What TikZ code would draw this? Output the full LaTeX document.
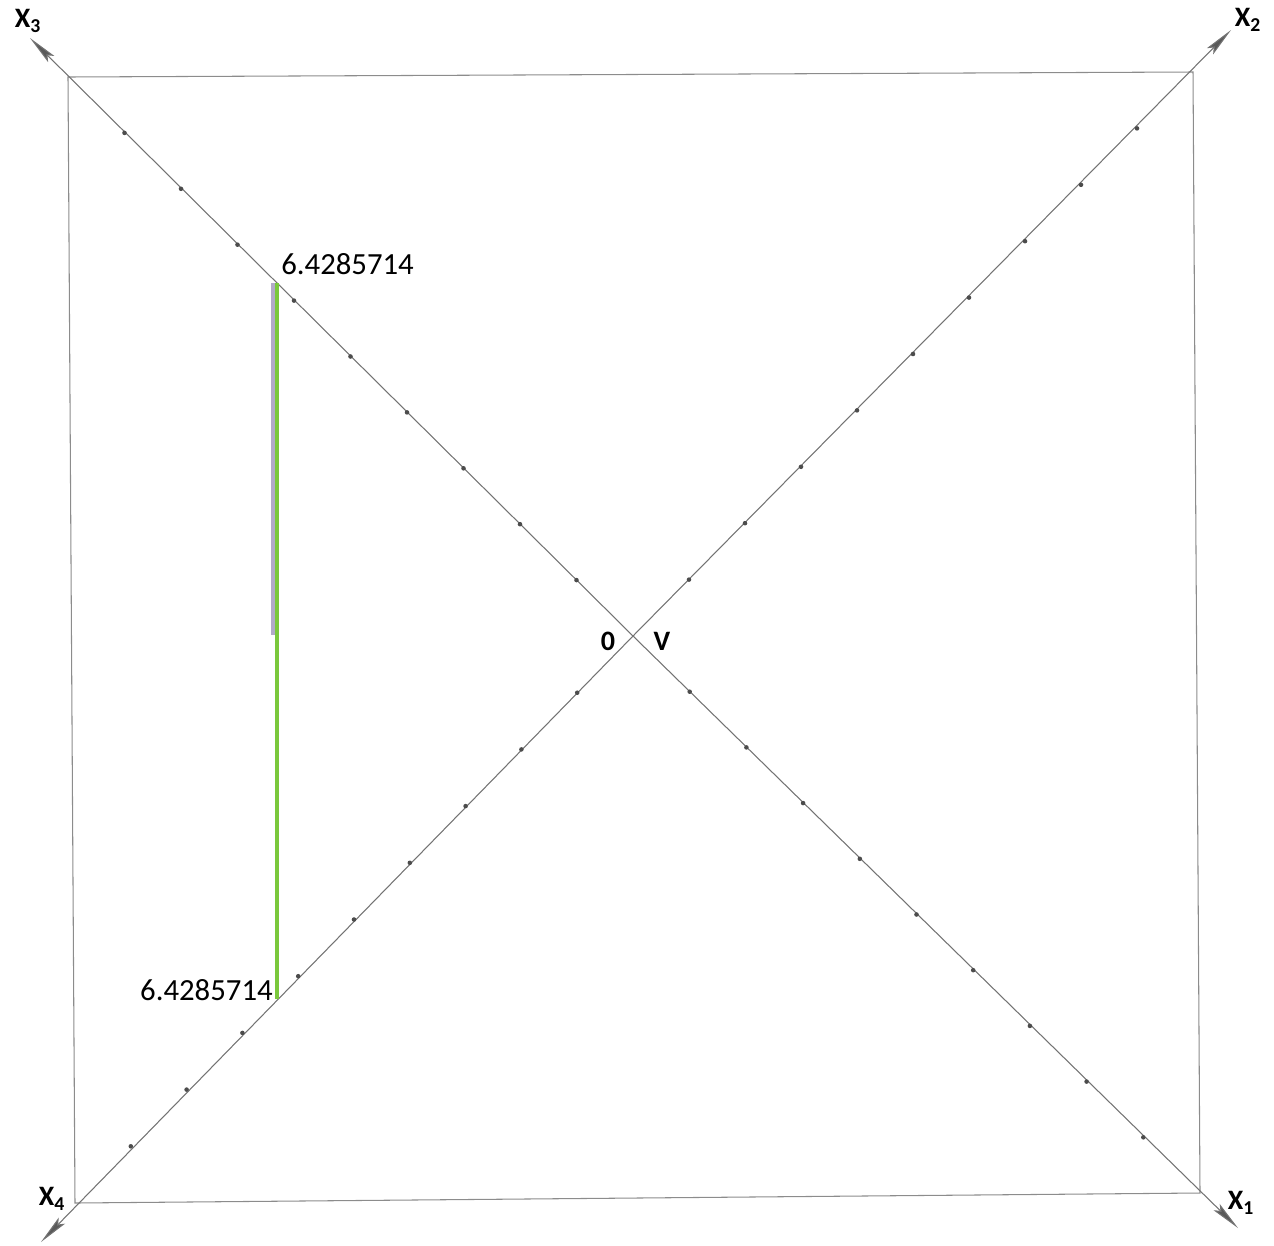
\documentclass[tikz,border=0pt]{standalone}
\usepackage{fontspec}
\setmainfont{Carlito}
\usetikzlibrary{calc,arrows.meta}
\definecolor{gline}{RGB}{122,200,60}
\definecolor{lav}{RGB}{178,170,200}
\begin{document}
\begin{tikzpicture}[x=0.02cm,y=-0.02cm,
  frame/.style={draw=black!45,line width=0.6pt},
  axis/.style={draw=black!55,line width=0.6pt,-{Stealth[length=17pt,width=5pt,inset=3pt,fill=black!65]}},
  tick/.style={fill=black!70,circle,inner sep=0pt,minimum size=2.6pt},
  axlab/.style={font=\bfseries\fontsize{16}{16}\selectfont,inner sep=0pt},
  numlab/.style={font=\fontsize{17.5}{18}\selectfont,inner sep=0pt},
  greenline/.style={draw=gline,line width=2.8pt},
  shade/.style={draw=lav,line width=2pt}]
\useasboundingbox (0,0) rectangle (1274,1245);
\coordinate (TL) at (68,77);
\coordinate (TR) at (1193,72);
\coordinate (BR) at (1200,1193);
\coordinate (BL) at (75,1203);
\coordinate (O) at (633,636);
\coordinate (t3) at (30,38);
\coordinate (t2) at (1231,30);
\coordinate (t1) at (1238,1228);
\coordinate (t4) at (41,1242);
\draw[frame] (TL) -- (TR) -- (BR) -- (BL) -- cycle;
\draw[axis] (O) -- (t3);
\draw[axis] (O) -- (t2);
\draw[axis] (O) -- (t1);
\draw[axis] (O) -- (t4);
\foreach \c in {TL,TR,BR,BL}{
  \foreach \k in {1,...,9}{
    \node[tick] at ($(O)!\k/10!(\c)$) {};
  }
}
\coordinate (gA) at (277,283);
\coordinate (gB) at (277,999);
\coordinate (gM) at (273,635);
\draw[shade] ($(gA)+(-4,0)$) -- (gM);
\draw[greenline] (gA) -- (gB);
\node[numlab,anchor=south west] (la) at (281,275) {6.4285714};
\node[numlab,anchor=south east] (lb) at (273,1001) {6.4285714};
\node[axlab] (x3) at (28,21) {X\textsubscript{3}};
\node[axlab] (x2) at (1248,20) {X\textsubscript{2}};
\node[axlab] (x1) at (1241,1203) {X\textsubscript{1}};
\node[axlab] (x4) at (52,1199) {X\textsubscript{4}};
\node[axlab] (zero) at (608,641) {0};
\node[axlab] (v) at (662,641) {V};
\end{tikzpicture}
\end{document}
